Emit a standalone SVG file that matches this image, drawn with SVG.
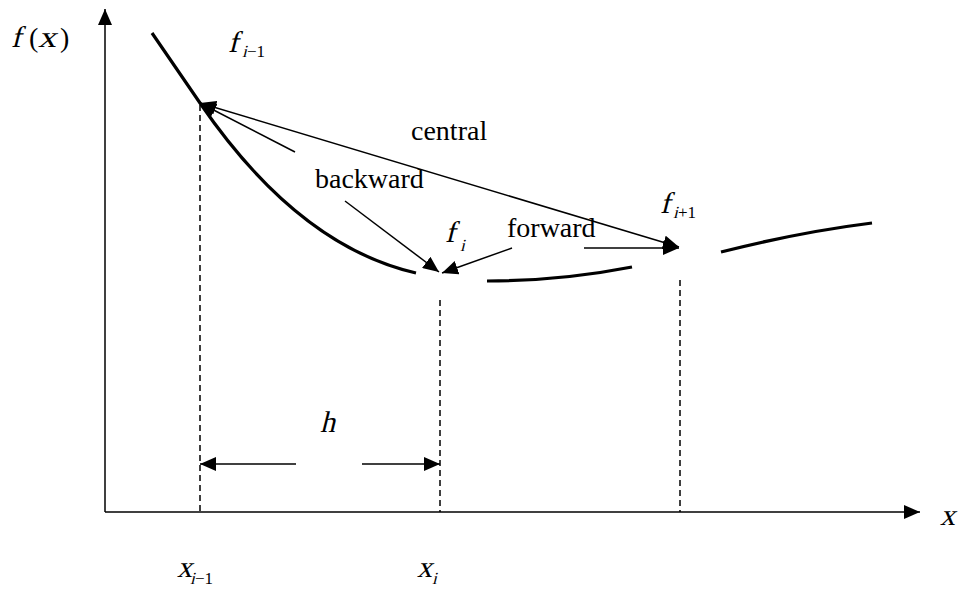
<svg xmlns="http://www.w3.org/2000/svg" width="961" height="591" viewBox="0 0 961 591">
<style>
.ax{stroke:#000;stroke-width:1.5;fill:none}
.dash{stroke:#000;stroke-width:1.5;stroke-dasharray:6 4;fill:none}
.crv{stroke:#000;stroke-width:3.2;fill:none;stroke-linecap:butt}
.con{stroke:#000;stroke-width:1.5;fill:none}
.t{font-family:"Liberation Serif","Times New Roman",serif;font-size:28px;fill:#000}
.m{font-family:"Liberation Serif","Times New Roman",serif;font-size:30px;fill:#000}
.s{font-family:"Liberation Serif","Times New Roman",serif;font-size:17px;fill:#000}
</style>
<defs>
<marker id="ah" viewBox="0 0 16 14" refX="16" refY="7" markerWidth="16" markerHeight="14" markerUnits="userSpaceOnUse" orient="auto-start-reverse">
<path d="M0,0 L16,7 L0,14 z" fill="#000"/>
</marker>
</defs>
<g id="axes">
<line class="ax" x1="105" y1="512" x2="105" y2="9" marker-end="url(#ah)"/>
<line class="ax" x1="105" y1="512" x2="920" y2="512" marker-end="url(#ah)"/>
<g id="fx-label">
<text class="m" transform="translate(11,47) skewX(-14)">f</text>
<text class="t" x="29" y="47">(</text>
<text class="m" transform="translate(38,47) skewX(-14)" textLength="18" lengthAdjust="spacingAndGlyphs">x</text>
<text class="t" x="60" y="47">)</text>
</g>
<text class="m" transform="translate(940,525) skewX(-14)">x</text>
</g>
<g id="curve">
<path class="crv" d="M152,33 L200,103 Q298,246 416,273"/>
<path class="crv" d="M487,281 Q560,281 632,267"/>
<path class="crv" d="M721,252 Q800,232 872,223"/>
</g>
<g id="guides">
<line class="dash" x1="200" y1="105" x2="200" y2="512"/>
<line class="dash" x1="440" y1="300" x2="440" y2="512"/>
<line class="dash" x1="680" y1="280" x2="680" y2="512"/>
</g>
<g id="f-im1"><text class="m" transform="translate(228,52) skewX(-14)">f</text><text class="s" transform="translate(242,57) skewX(-14)">i</text><text class="s" x="247" y="57">−1</text></g>
<g id="f-i"><text class="m" transform="translate(445,242) skewX(-14)">f</text><text class="s" transform="translate(460,251) skewX(-14)">i</text></g>
<g id="f-ip1"><text class="m" transform="translate(660,213) skewX(-14)">f</text><text class="s" transform="translate(673,218) skewX(-14)">i</text><text class="s" x="678" y="218">+1</text></g>
<g id="x-im1"><text class="m" transform="translate(177,577) skewX(-14)">x</text><text class="s" transform="translate(190,584) skewX(-14)">i</text><text class="s" x="195" y="584">−1</text></g>
<g id="x-i"><text class="m" transform="translate(417,577) skewX(-14)">x</text><text class="s" transform="translate(432,584) skewX(-14)">i</text></g>
<g id="labels">
<text class="t" x="411" y="140">central</text>
<text class="t" x="315" y="188">backward</text>
<text class="t" x="507" y="237">forward</text>
<text class="m" transform="translate(320,432) skewX(-14)">h</text>
</g>
<g id="connectors">
<line class="con" x1="200" y1="103" x2="679" y2="247" marker-start="url(#ah)" marker-end="url(#ah)"/>
<line class="con" x1="295" y1="152" x2="200" y2="103" marker-end="url(#ah)"/>
<line class="con" x1="345" y1="201" x2="439" y2="272" marker-end="url(#ah)"/>
<line class="con" x1="512" y1="248" x2="442" y2="273" marker-end="url(#ah)"/>
<line class="con" x1="584" y1="248" x2="679" y2="248" marker-end="url(#ah)"/>
<line class="con" x1="296" y1="464" x2="200" y2="464" marker-end="url(#ah)"/>
<line class="con" x1="362" y1="464" x2="440" y2="464" marker-end="url(#ah)"/>
</g>
</svg>
